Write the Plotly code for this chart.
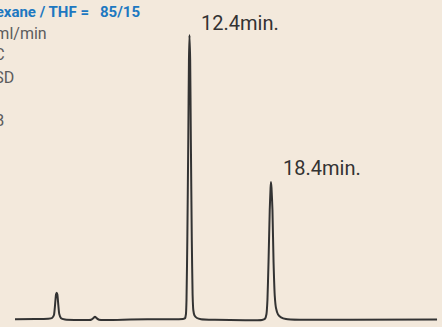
import plotly.graph_objects as go

# Chromatogram trace: retention time (min) vs detector signal (relative, main peak = 100)
time_min = [-0.45, 1.02, 1.98, 2.28, 2.42, 2.50, 2.57, 2.62, 2.67, 2.74, 2.81, 2.94, 3.23,
            4.34, 5.15, 5.33, 5.44, 5.55, 5.74, 8.02, 10.60, 11.92, 12.07, 12.14, 12.18,
            12.24, 12.31, 12.36, 12.40, 12.45, 12.50, 12.57, 12.63, 12.68, 12.77, 12.95,
            13.25, 14.28, 16.49, 17.74, 17.96, 18.07, 18.14, 18.22, 18.31, 18.37, 18.40,
            18.44, 18.51, 18.59, 18.68, 18.77, 18.92, 19.14, 19.51, 20.54, 24.22, 30.63]
signal = [-0.11, -0.04, 0.11, 0.35, 1.41, 4.93, 8.63, 9.26, 8.63, 4.93, 1.76, 0.25, -0.18,
          -0.35, -0.28, 0.35, 0.81, 0.35, -0.25, -0.18, -0.07, 0.04, 0.25, 1.76, 6.69,
          27.82, 63.03, 91.2, 100.0, 91.2, 63.03, 27.82, 8.45, 3.17, 1.23, 0.35,
          -0.07, -0.28, -0.42, -0.32, 0.07, 1.76, 6.69, 20.07, 38.38, 46.13, 48.24,
          46.13, 38.38, 20.07, 8.10, 3.87, 1.58, 0.60, 0.0, -0.28, -0.28, -0.14]

# Labelled peaks
peak_rt = [12.4, 18.4]
peak_height = [100.0, 48.24]

# Conditions block
eluent_label = "Eluent : Hexane / THF ="
eluent_ratio = "85/15"
condition_lines = ["Flow rate : 1.0 ml/min", "Temp. : 40 °C", "Detector : ELSD",
                   "Sample : Mix B"]

W, H = 442, 327
BG = "#f3e9dc"
INK = "#333333"
BLUE = "#1d78c1"
GREY = "#5c5c5c"

fig = go.Figure()
fig.add_trace(go.Scatter(
    x=time_min, y=signal, mode="lines",
    line=dict(color=INK, width=2, shape="spline", smoothing=0.5),
    hoverinfo="skip", showlegend=False,
))

annotations = []
for rt, h, dy in zip(peak_rt, peak_height, [12, 14]):
    annotations.append(dict(
        x=rt, y=h, xref="x", yref="y", text=f"{rt:.1f}min.",
        showarrow=False, xanchor="left", yanchor="middle",
        xshift=10, yshift=dy,
        font=dict(family="Roboto, Liberation Sans, sans-serif", size=20, color=INK),
    ))

narrow = "Liberation Sans Narrow, Roboto, Liberation Sans, sans-serif"
annotations.append(dict(
    x=91 / W, y=1 - 12 / H, xref="paper", yref="paper", text=f"<b>{eluent_label}</b>",
    showarrow=False, xanchor="right", yanchor="middle",
    font=dict(family=narrow, size=15, color=BLUE),
))
annotations.append(dict(
    x=142 / W, y=1 - 12 / H, xref="paper", yref="paper", text=f"<b>{eluent_ratio}</b>",
    showarrow=False, xanchor="right", yanchor="middle",
    font=dict(family=narrow, size=15, color=BLUE),
))
for txt, right, cy in zip(condition_lines, [49, 7, 16, 5.5], [33, 54, 77, 121]):
    annotations.append(dict(
        x=right / W, y=1 - cy / H, xref="paper", yref="paper", text=txt,
        showarrow=False, xanchor="right", yanchor="middle",
        font=dict(family=narrow, size=16, color=GREY),
    ))

fig.update_layout(
    width=W, height=H,
    margin=dict(l=0, r=0, t=0, b=0),
    paper_bgcolor=BG, plot_bgcolor=BG,
    xaxis=dict(range=[-1.554, 30.995], visible=False, fixedrange=True),
    yaxis=dict(range=[-2.817, 112.32], visible=False, fixedrange=True),
    annotations=annotations,
    showlegend=False,
)

fig.write_html("out.html")
